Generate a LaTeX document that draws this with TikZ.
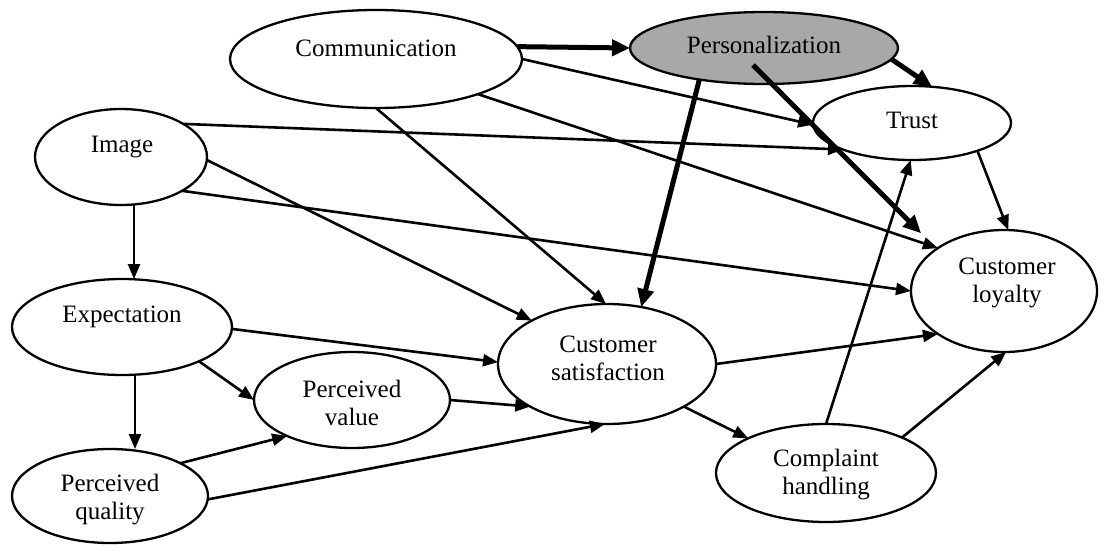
\documentclass[tikz,border=0pt]{standalone}
\usepackage{fontspec}
\setmainfont{Liberation Serif}
\usetikzlibrary{shapes.geometric,arrows.meta}
\definecolor{persgray}{RGB}{168,168,168}
\begin{document}
\begin{tikzpicture}[x=1pt,y=-1pt,
  oval/.style={ellipse, draw, line width=2.3pt, fill=white, inner sep=0pt, outer sep=0pt},
  lbl/.style={font=\fontsize{25}{28}\selectfont, align=center, inner sep=0pt},
  link/.style={line width=2.6pt, -{Triangle[length=15pt,width=12pt]}},
  strong/.style={line width=5pt, -{Triangle[length=18pt,width=16pt]}}]
\useasboundingbox (0,0) rectangle (1104,544);

% constructs
\node[oval, minimum width=292pt, minimum height=98pt] (comm) at (376,59) {};
\node[oval, minimum width=268pt, minimum height=72pt, fill=persgray] (pers) at (764,48) {};
\node[oval, minimum width=172pt, minimum height=96pt] (img) at (121,157) {};
\node[oval, minimum width=198pt, minimum height=74pt] (trust) at (912,123) {};
\node[oval, minimum width=186pt, minimum height=122pt] (loyal) at (1004,291) {};
\node[oval, minimum width=220pt, minimum height=96pt] (exp) at (122,327) {};
\node[oval, minimum width=196pt, minimum height=96pt] (pv) at (352,400) {};
\node[oval, minimum width=196pt, minimum height=94pt] (pq) at (110,496) {};
\node[oval, minimum width=218pt, minimum height=120pt] (sat) at (607,364) {};
\node[oval, minimum width=220pt, minimum height=98pt] (comp) at (826,473) {};

% labels
\node[lbl] (commT) at (376,48) {Communication};
\node[lbl] (persT) at (764,45) {Personalization};
\node[lbl] (imgT) at (122,147) {Image};
\node[lbl] (trustT) at (912,120) {Trust};
\node[lbl] (loyalT) at (1007,283) {Customer\\loyalty};
\node[lbl] (expT) at (122,317) {Expectation};
\node[lbl] (pvT) at (352,403) {Perceived\\value};
\node[lbl] (pqT) at (110,500) {Perceived\\quality};
\node[lbl] (satT) at (608,358) {Customer\\satisfaction};
\node[lbl] (compT) at (826,475) {Complaint\\handling};

% paths
\draw[strong] (comm.5) -- (pers.180);
\draw[link] (comm.0) -- (trust.181);
\draw[link] (comm.-19) -- (loyal.147);
\draw[link] (comm.-90) -- (sat.91);
\draw[link] (img.28) -- (trust.201);
\draw[link] (img.-2) -- (sat.150);
\draw[link] (img.-29) -- (loyal.180);
\draw[link] ([xshift=13pt]img.south) -- ([xshift=12pt]exp.north);
\draw[link] ([xshift=13pt]exp.south) -- ([xshift=25pt]pq.north);
\draw[link] (exp.-1) -- (sat.179);
\draw[link] (exp.-24) -- (pv.180);
\draw[link] (pq.25) -- (pv.209);
\draw[link] (pq.-2) -- (sat.268);
\draw[link] (pv.0) -- (sat.209);
\draw[strong] (pers.206) -- (sat.59);
\draw[strong] (pers.-5) -- (trust.61);
\coordinate (persIn) at (753,65);
\draw[strong, shorten >=22pt] (persIn) -- (loyal.148);
\draw[link] (trust.-23) -- (loyal.86);
\draw[link] (sat.0) -- (loyal.213);
\draw[link] (sat.-29) -- (comp.156);
\draw[link] (comp.90) -- (trust.268);
\draw[link] (comp.25) -- (loyal.272);
\end{tikzpicture}
\end{document}
